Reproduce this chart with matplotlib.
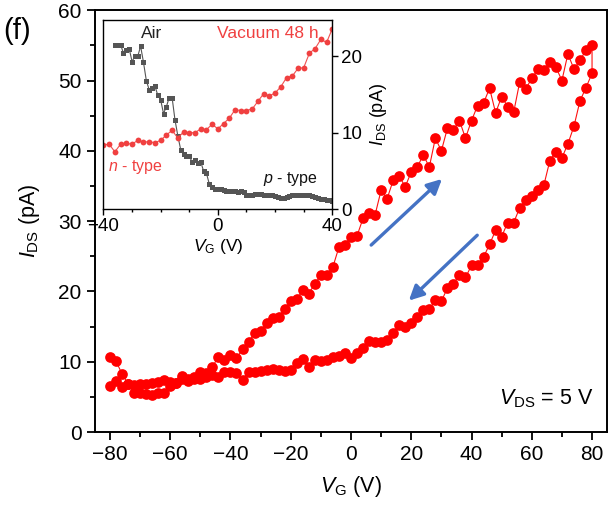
import numpy as np
import matplotlib
matplotlib.use("Agg")
import matplotlib.pyplot as plt
from matplotlib.ticker import MultipleLocator

plt.rcParams['font.family'] = ['Liberation Sans', 'DejaVu Sans']
plt.rcParams['mathtext.fontset'] = 'custom'
plt.rcParams['mathtext.rm'] = 'Liberation Sans'
plt.rcParams['mathtext.it'] = 'Liberation Sans:italic'
plt.rcParams['mathtext.bf'] = 'Liberation Sans:bold'

# ---------------- main data ----------------
vg_forward = list(range(-80, 82, 2))
ids_forward = [10.7, 10.1, 8.3, 6.9, 5.6, 5.5, 5.4, 5.3, 5.5, 5.6,
               6.5, 7.0, 8.0, 7.6, 7.9, 8.6, 8.4, 9.3, 10.7, 10.3,
               10.9, 10.5, 11.8, 12.8, 14.1, 14.4, 15.5, 16.3, 16.4, 17.5,
               18.7, 18.9, 20.2, 19.7, 21.1, 22.3, 22.3, 23.5, 26.3, 26.6,
               27.8, 27.9, 30.4, 31.2, 30.9, 34.4, 33.2, 35.8, 36.4, 34.9,
               37.0, 37.7, 39.4, 37.7, 41.8, 40.0, 43.2, 43.0, 44.3, 41.8,
               44.3, 46.4, 46.8, 48.9, 45.4, 47.7, 46.3, 45.5, 49.8, 48.8,
               50.3, 51.6, 51.5, 52.6, 51.9, 50.0, 53.8, 51.6, 52.9, 54.3,
               55.0]
vg_backward = list(range(80, -82, -2))
ids_backward = [51.0, 49.0, 47.1, 43.5, 41.0, 39.0, 39.9, 38.6, 35.1, 34.5,
                33.6, 33.0, 31.9, 29.8, 29.8, 27.8, 28.7, 26.7, 24.9, 23.8,
                23.7, 22.0, 22.4, 21.1, 20.5, 18.6, 18.8, 17.5, 17.4, 16.4,
                15.5, 15.0, 15.2, 14.1, 13.1, 12.8, 12.8, 12.9, 11.9, 11.2,
                10.5, 11.3, 10.8, 10.7, 10.2, 10.1, 10.2, 9.2, 10.4, 9.8,
                8.9, 8.7, 8.9, 9.0, 8.8, 8.7, 8.6, 8.6, 7.4, 8.4,
                8.6, 8.6, 7.8, 8.1, 7.9, 7.6, 7.5, 7.3, 7.6, 7.0,
                7.2, 7.4, 7.1, 7.0, 6.8, 6.9, 6.7, 6.8, 6.4, 7.3,
                6.5]

# ---------------- inset data ----------------
vg_air = list(range(-36, 41, 1))
ids_air = [21.4, 21.5, 21.5, 20.4, 20.8, 21.0, 19.3, 20.0, 20.0, 21.3,
           19.2, 16.8, 15.6, 15.9, 16.1, 14.9, 14.3, 12.5, 13.4, 14.6,
           14.6, 11.7, 9.6, 7.8, 7.2, 7.0, 6.9, 6.2, 6.4, 6.0,
           6.2, 5.0, 4.7, 3.3, 2.9, 2.7, 2.6, 2.6, 2.5, 2.4,
           2.4, 2.4, 2.4, 2.3, 2.4, 2.3, 1.8, 1.8, 1.9, 2.0,
           2.05, 2.0, 1.9, 1.9, 1.8, 1.8, 1.7, 1.6, 1.5, 1.5,
           1.6, 1.75, 1.8, 1.9, 1.9, 1.9, 1.9, 1.9, 1.8, 1.75,
           1.6, 1.5, 1.35, 1.3, 1.2, 1.2, 1.1]
vg_vac = list(range(-40, 42, 2))
ids_vac = [8.4, 8.5, 7.5, 8.5, 8.6, 8.5, 9.0, 8.8, 8.8, 8.7,
           9.0, 9.7, 10.3, 9.3, 10.1, 10.0, 10.0, 10.5, 10.4, 11.1,
           10.5, 11.2, 11.9, 13.0, 12.9, 12.9, 13.1, 14.1, 15.1, 14.8,
           15.2, 16.0, 17.2, 17.4, 18.4, 18.5, 20.4, 21.0, 22.2, 21.8,
           23.6]

fig = plt.figure(figsize=(6.12, 5.09), dpi=100)
ax = fig.add_axes([0.155, 0.151, 0.837, 0.829])

vg_all = vg_forward + vg_backward
ids_all = ids_forward + ids_backward
ax.plot(vg_all, ids_all, '-', color='#FF1010', lw=0.8, zorder=2)
ax.plot(vg_all, ids_all, 'o', color='#FF0000', ms=7.7, mew=0, zorder=3)

ax.set_xlim(-85, 85)
ax.set_ylim(0, 60)
ax.xaxis.set_major_locator(MultipleLocator(20))
ax.xaxis.set_minor_locator(MultipleLocator(10))
ax.yaxis.set_major_locator(MultipleLocator(10))
ax.yaxis.set_minor_locator(MultipleLocator(5))
ax.tick_params(which='both', direction='out', labelsize=15, width=1.3)
ax.tick_params(which='major', length=6)
ax.tick_params(which='minor', length=3.5)
for s in ax.spines.values():
    s.set_linewidth(1.4)
ax.set_xlabel(r'$V_{\rm G}$ (V)', fontsize=15.5, labelpad=7)
ax.set_ylabel(r'$I_{\rm DS}$ (pA)', fontsize=15.5, labelpad=12)

arrow_col = '#4472C4'
ax.annotate('', xy=(30.2, 36.0), xytext=(6.7, 26.6),
            arrowprops=dict(arrowstyle='-|>', color=arrow_col, lw=2.4,
                            mutation_scale=22, shrinkA=0, shrinkB=0))
ax.annotate('', xy=(19.2, 18.7), xytext=(41.9, 28.0),
            arrowprops=dict(arrowstyle='-|>', color=arrow_col, lw=2.4,
                            mutation_scale=22, shrinkA=0, shrinkB=0))

ax.text(80.5, 4.8, r'$V_{\rm DS}$ = 5 V', fontsize=15.5, ha='right', va='center')
fig.text(0.006, 0.94, '(f)', fontsize=21, ha='left', va='center')

# ---------------- inset ----------------
axi = fig.add_axes([0.169, 0.589, 0.374, 0.372])
axi.plot(vg_air, ids_air, '-', color='#555555', lw=0.8)
axi.plot(vg_air, ids_air, 's', color='#555555', ms=3.6, mew=0)
axi.plot(vg_vac, ids_vac, '-', color='#F05050', lw=0.8)
axi.plot(vg_vac, ids_vac, 'o', color='#F04040', ms=4.2, mew=0)
axi.set_xlim(-40, 40)
axi.set_ylim(0, 24.75)
axi.xaxis.set_major_locator(MultipleLocator(40))
axi.xaxis.set_minor_locator(MultipleLocator(10))
axi.yaxis.set_major_locator(MultipleLocator(10))
axi.yaxis.tick_right()
axi.yaxis.set_label_position('right')
axi.tick_params(which='both', direction='out', labelsize=13.5, width=1.0, pad=2)
axi.tick_params(which='major', length=4.5)
axi.tick_params(which='minor', length=2.5)
for s in axi.spines.values():
    s.set_linewidth(1.0)
axi.set_xlabel(r'$V_{\rm G}$ (V)', fontsize=12.5, labelpad=1)
axi.set_ylabel(r'$I_{\rm DS}$ (pA)', fontsize=13, labelpad=4)

axi.text(-23, 23.0, 'Air', fontsize=12.5, ha='center', va='center', color='#222222')
axi.text(17.3, 23.0, 'Vacuum 48 h', fontsize=12.5, ha='center', va='center', color='#F04040')
axi.text(-28.9, 5.5, r'$n$ - type', fontsize=11.5, ha='center', va='center', color='#F04040')
axi.text(25.3, 3.9, r'$p$ - type', fontsize=11.5, ha='center', va='center', color='#111111')

fig.savefig('out.png', dpi=100)
